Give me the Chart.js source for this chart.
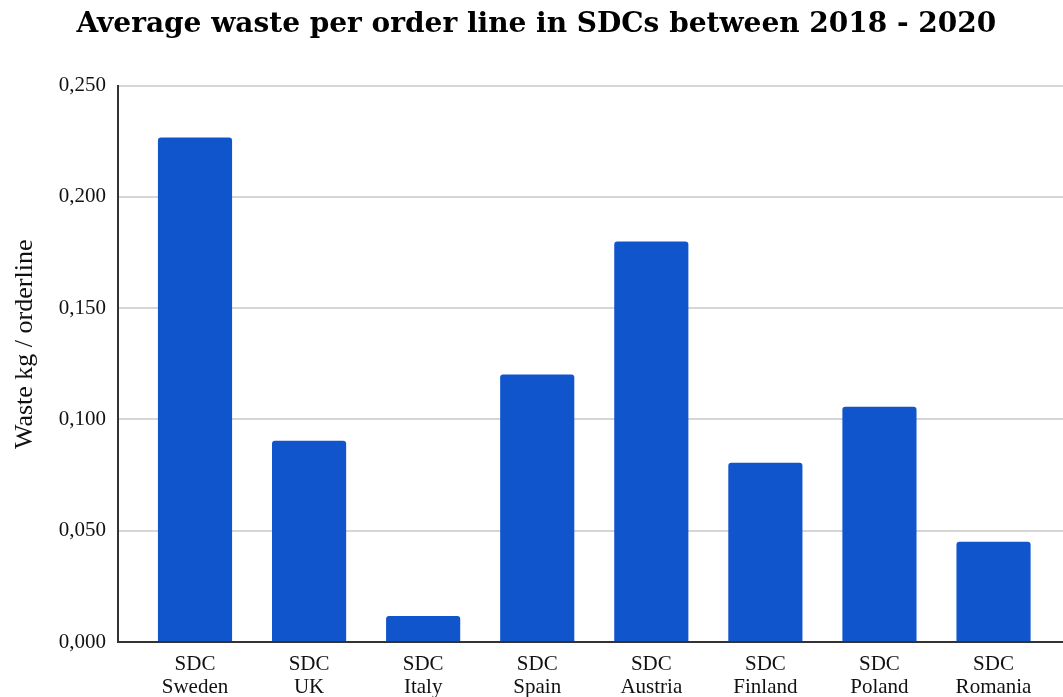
<!DOCTYPE html>
<html>
<head>
<meta charset="utf-8">
<script src="https://cdn.jsdelivr.net/npm/chart.js@4.4.1/dist/chart.umd.min.js"></script>
<style>
html,body{margin:0;padding:0;background:#fff;}
#wrap{width:1063px;height:697px;}
</style>
</head>
<body>
<div id="wrap"><canvas id="c" width="1063" height="697"></canvas></div>
<script>
const categories = [
  ["SDC","Sweden"],["SDC","UK"],["SDC","Italy"],["SDC","Spain"],
  ["SDC","Austria"],["SDC","Finland"],["SDC","Poland"],["SDC","Romania"]
];
const wastePerOrderLine = [0.2267, 0.0904, 0.0117, 0.1202, 0.1799, 0.0805, 0.1057, 0.0451];
const yTicks = [0, 0.05, 0.10, 0.15, 0.20, 0.25];

const points = wastePerOrderLine.map((v, i) => ({x: i, y: v}));

new Chart(document.getElementById('c'), {
  type: 'bar',
  data: {
    datasets: [{
      data: points,
      backgroundColor: '#1155cc',
      borderRadius: 3,
      borderSkipped: 'start',
      categoryPercentage: 1,
      barPercentage: 0.65
    }]
  },
  options: {
    responsive: false,
    animation: false,
    layout: {padding: {left: 0, right: 0, top: 0, bottom: 0}},
    plugins: {
      legend: {display: false},
      tooltip: {enabled: false},
      title: {
        display: true,
        text: ' Average waste per order line in SDCs between 2018 - 2020',
        color: '#000',
        font: {family: 'DejaVu Serif', size: 28, weight: 'bold'},
        padding: {top: 8, bottom: 44}
      }
    },
    scales: {
      x: {
        type: 'linear',
        offset: false,
        min: -0.675,
        max: 7.609,
        afterBuildTicks: (s) => { s.ticks = categories.map((_, i) => ({value: i})); },
        afterFit: (s) => { s.height = 55; },
        grid: {display: false, drawTicks: false, offset: false},
        border: {display: true, color: '#333', width: 2},
        ticks: {
          autoSkip: false,
          maxRotation: 0,
          padding: 11,
          color: '#111',
          font: {family: 'Liberation Serif', size: 21, lineHeight: 1.1},
          callback: (v) => categories[Math.round(v)]
        }
      },
      y: {
        min: 0,
        max: 0.25,
        afterBuildTicks: (s) => { s.ticks = yTicks.map(v => ({value: v})); },
        afterFit: (s) => { s.width = 118; },
        grid: {color: '#d6d6d6', lineWidth: 2, drawTicks: false},
        border: {display: true, color: '#333', width: 2},
        ticks: {
          padding: 12,
          color: '#111',
          font: {family: 'Liberation Serif', size: 21},
          callback: (v) => v.toFixed(3).replace('.', ',')
        },
        title: {
          display: true,
          text: '      Waste kg / orderline',
          color: '#111',
          font: {family: 'Liberation Serif', size: 26},
          padding: {top: 10, bottom: 0}
        }
      }
    }
  }
});
</script>
</body>
</html>
